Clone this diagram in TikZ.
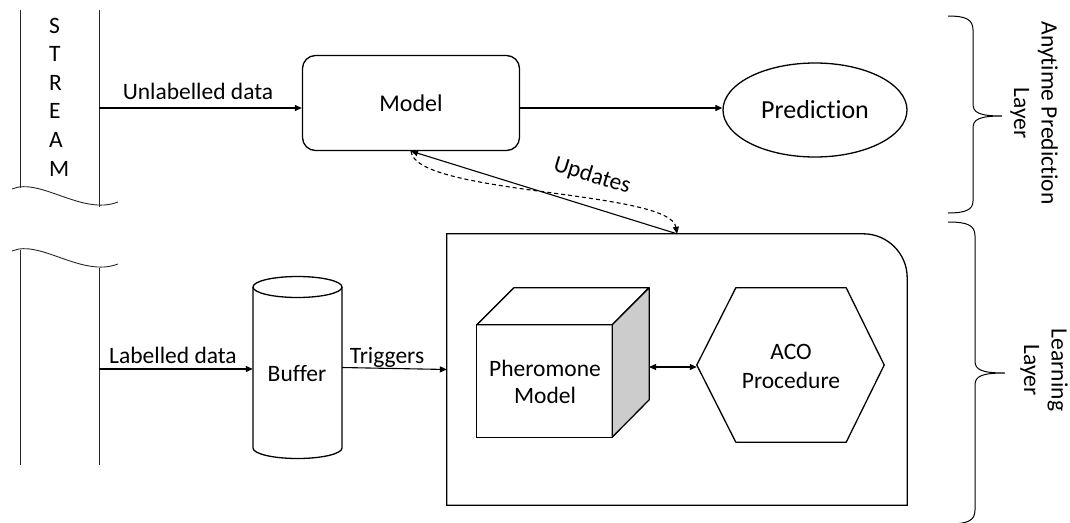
\documentclass[tikz,border=0pt]{standalone}
\usepackage{fontspec}
\setmainfont{Carlito}[Ligatures={NoCommon,NoRare}]
\usetikzlibrary{arrows.meta,shapes.geometric}
\begin{document}
\begin{tikzpicture}[x=1pt,y=-1pt,
  lbl/.style={inner sep=0pt, font=\fontsize{23.5}{27.5}\selectfont},
  shp/.style={draw, line width=1.3pt},
  ghost/.style={inner sep=0pt, draw=none},
  tip/.tip={Triangle[length=7pt,width=6pt]},
  arr/.style={line width=1.1pt, -tip},
  wall/.style={line width=0.9pt, draw=black!85},
  brace/.style={line width=1pt},
]
\useasboundingbox (0,0) rectangle (1070,522);

% ---- stream (upper part)
\draw[wall] (20,10) -- (20,188);
\draw[wall] (99,10) -- (99,207);
\draw[wall] (12,189) .. controls (40,177) and (82,216) .. (118,202);
\foreach \l [count=\i] in {S,T,R,E,A,M}
  \node[lbl, anchor=base west] (s\i) at (49,{33+28.6*(\i-1)}) {\l};
% ---- stream (lower part)
\draw[wall] (12,251) .. controls (40,239) and (82,278) .. (118,264);
\draw[wall] (20,250) -- (20,465);
\draw[wall] (99,268) -- (99,465);
\coordinate (streamA) at (99,108);
\coordinate (streamB) at (99,369);

% ---- anytime prediction layer
\node[shp, rounded corners=13pt, minimum width=217pt, minimum height=95pt, inner sep=0pt,
      font=\fontsize{24}{28}\selectfont] (model) at (411,103) {Model};
\node[shp, ellipse, minimum width=184pt, minimum height=94pt, inner sep=0pt,
      font=\fontsize{26}{30}\selectfont] (pred) at (815,110) {Prediction};
\draw[arr] (streamA) -- (streamA -| model.west);
\node[lbl, anchor=base] (unl) at (198,99) {Unlabelled data};
\draw[arr] (model.east |- streamA) -- (pred.west |- streamA);

% ---- learning layer container
\node[ghost, minimum width=460pt, minimum height=271pt] (learn) at (677,369.5) {};
\draw[shp] (learn.south west) -- (learn.north west) -- ([xshift=-44pt]learn.north east)
  arc[start angle=90, end angle=0, radius=44pt] -- (learn.south east) -- cycle;

% ---- updates
\draw[arr] (learn.north) -- (model.south);
\draw[arr, dash pattern=on 4pt off 3pt] (model.south) .. controls (415,195) and (670,190) .. (learn.north);
\node[lbl, rotate=-17] (upd) at (592,176) {Updates};

% ---- buffer
\node[ghost, minimum width=89pt, minimum height=182pt] (buffer) at (297.5,367.5) {};
\draw[shp, fill=white] (253,287) -- (253,448)
  arc[start angle=180, end angle=360, x radius=44.5pt, y radius=10.5pt] -- (342,287);
\draw[shp] (297.5,287) ellipse[x radius=44.5pt, y radius=10.5pt];
\node[lbl, anchor=base] (buflbl) at (297,381) {Buffer};
\draw[arr] (streamB) -- (streamB -| buffer.west);
\node[lbl, anchor=base] (lab) at (173,363) {Labelled data};
\draw[arr] (buffer.east) -- (learn.west);
\node[lbl, anchor=base] (trig) at (387,363) {Triggers};

% ---- pheromone cube
\node[ghost, minimum width=135pt, minimum height=112pt] (pher) at (544.5,381) {};
\draw[shp, fill=white, line join=round] (pher.north west) -- ++(37,-37) -- ++(135,0) -- (pher.north east) -- cycle;
\draw[shp, fill=black!20, line join=round] (pher.north east) -- ++(37,-37) -- ++(0,112) -- (pher.south east) -- cycle;
\draw[shp] (pher.south west) rectangle (pher.north east);
\node[lbl, align=center] (phertxt) at (545,382) {Pheromone\\Model};

% ---- ACO hexagon
\node[ghost, minimum width=187pt, minimum height=154pt] (aco) at (790.5,365) {};
\draw[shp, line join=round] (aco.west) -- ([xshift=39pt]aco.north west) -- ([xshift=-38pt]aco.north east)
  -- (aco.east) -- ([xshift=-38pt]aco.south east) -- ([xshift=39pt]aco.south west) -- cycle;
\node[lbl, align=center, font=\fontsize{23.5}{29}\selectfont] (acotxt) at (791,366) {ACO\\Procedure};
\coordinate (cubeR) at (649,367);
\draw[line width=1.1pt, tip-tip] (cubeR) -- (cubeR -| aco.west);

% ---- braces and layer labels
\draw[brace] (948,16) .. controls (965,16) and (973,19) .. (973,30) -- (973,104)
  .. controls (973,113) and (980,116) .. (1002,116)
  .. controls (980,116) and (973,119) .. (973,128) -- (973,201)
  .. controls (973,210) and (965,213) .. (948,213);
\draw[brace] (948,222) .. controls (967,222) and (975,225) .. (975,236) -- (975,361)
  .. controls (975,370) and (982,373) .. (1005,373)
  .. controls (982,373) and (975,376) .. (975,385) -- (975,510)
  .. controls (975,521) and (967,524) .. (948,524);
\node[lbl, rotate=-90, align=center] (apl) at (1034,113) {Anytime Prediction\\Layer};
\node[lbl, rotate=-90, align=center] (ll) at (1044,370) {Learning\\Layer};
\end{tikzpicture}
\end{document}
